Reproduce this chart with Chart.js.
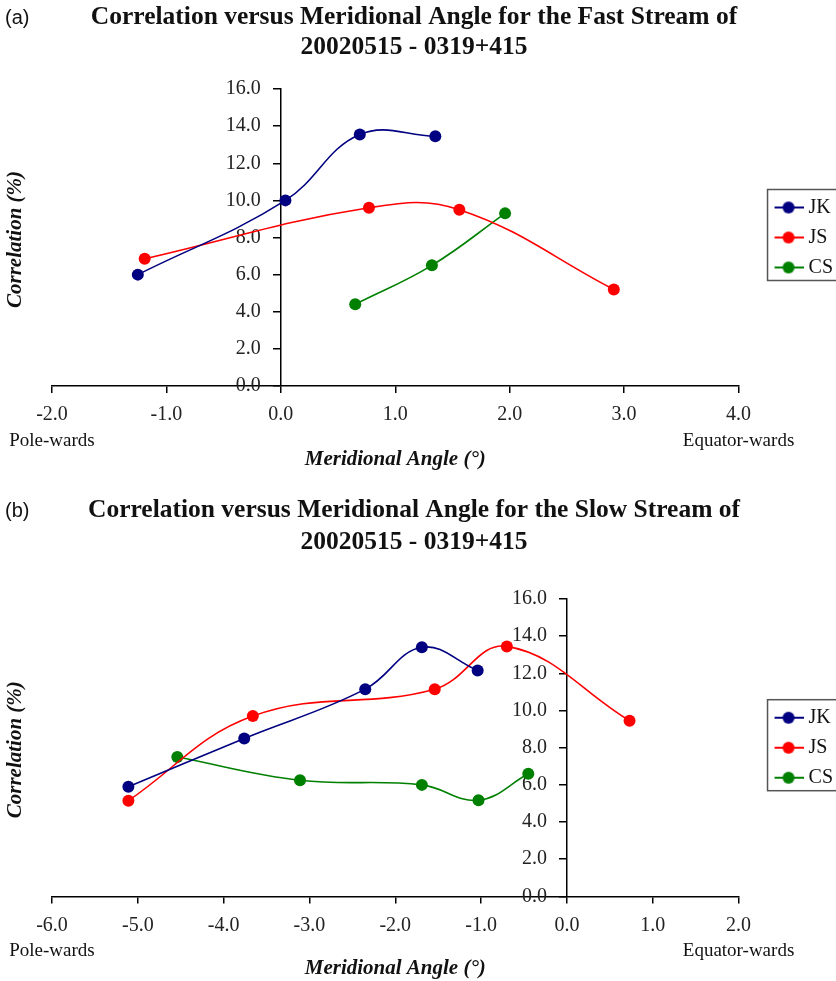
<!DOCTYPE html>
<html>
<head>
<meta charset="utf-8">
<script src="https://cdn.jsdelivr.net/npm/chart.js@4.4.1/dist/chart.umd.min.js"></script>
<style>
  html, body { margin: 0; padding: 0; background: #fff; overflow: hidden; }
  #page { position: relative; width: 836px; height: 981px; overflow: hidden; }
  canvas { display: block; }
</style>
</head>
<body>
<div id="page">
  <canvas id="fast" width="843" height="490"></canvas>
  <canvas id="slow" width="843" height="491"></canvas>
</div>
<script>
const seriesNames = ['JK', 'JS', 'CS'];
const seriesColors = ['#000080', '#ff0000', '#008000'];

// (a) fast stream
const fastJkAngle = [-1.25, 0.04, 0.69, 1.35];
const fastJkCorr = [6.0, 10.0, 13.55, 13.45];
const fastJsAngle = [-1.19, 0.77, 1.56, 2.91];
const fastJsCorr = [6.85, 9.6, 9.5, 5.2];
const fastCsAngle = [0.65, 1.32, 1.96];
const fastCsCorr = [4.4, 6.5, 9.3];

// (b) slow stream
const slowJkAngle = [-5.11, -3.76, -2.35, -1.69, -1.04];
const slowJkCorr = [5.9, 8.5, 11.15, 13.4, 12.15];
const slowJsAngle = [-5.11, -3.66, -1.54, -0.70, 0.73];
const slowJsCorr = [5.15, 9.7, 11.15, 13.45, 9.45];
const slowCsAngle = [-4.54, -3.11, -1.69, -1.03, -0.45];
const slowCsCorr = [7.5, 6.25, 6.0, 5.17, 6.6];

const fastAngleTicks = [-2, -1, 0, 1, 2, 3, 4];
const slowAngleTicks = [-6, -5, -4, -3, -2, -1, 0, 1, 2];
const corrTicks = [0, 2, 4, 6, 8, 10, 12, 14, 16];

const SERIF = '"Liberation Serif", "Times New Roman", serif';
Chart.defaults.font.family = SERIF;

// little line-with-dot icons for the legend (left half left empty on purpose)
const legendIcons = seriesColors.map(c => {
  const cv = document.createElement('canvas');
  cv.width = 60; cv.height = 14;
  const g = cv.getContext('2d');
  g.strokeStyle = c; g.lineWidth = 2;
  g.beginPath(); g.moveTo(31, 7); g.lineTo(60, 7); g.stroke();
  g.fillStyle = c;
  g.beginPath(); g.arc(45, 7, 6, 0, Math.PI * 2); g.fill();
  return cv;
});

const panelText = {
  id: 'panelText',
  afterDraw(chart, args, opts) {
    const { ctx, chartArea, scales } = chart;
    ctx.save();
    ctx.fillStyle = '#111';
    ctx.textBaseline = 'middle';

    ctx.font = '20px "Liberation Sans", Arial, sans-serif';
    ctx.textAlign = 'left';
    ctx.fillText(opts.tag, 5, opts.titleY[0] + 1);

    ctx.font = 'bold 25.5px ' + SERIF;
    ctx.textAlign = 'center';
    opts.title.forEach((line, i) => ctx.fillText(line, 414, opts.titleY[i]));

    ctx.save();
    ctx.translate(16, (chartArea.top + chartArea.bottom) / 2 + 2);
    ctx.rotate(-Math.PI / 2);
    ctx.font = 'italic bold 21px ' + SERIF;
    ctx.fillText('Correlation (%)', 0, 0);
    ctx.restore();

    ctx.font = '19px ' + SERIF;
    const yNote = chartArea.bottom + 55;
    ctx.fillText('Pole-wards', scales.x.getPixelForValue(scales.x.min), yNote);
    ctx.fillText('Equator-wards', scales.x.getPixelForValue(scales.x.max), yNote);

    // frame round the legend
    const boxes = chart.legend.legendHitBoxes;
    if (boxes.length) {
      const first = boxes[0], last = boxes[boxes.length - 1];
      const top = first.top - 8;
      ctx.strokeStyle = '#555';
      ctx.lineWidth = 1.5;
      ctx.strokeRect(first.left + 19, top, 120, last.top + 23 - top);
    }
    ctx.restore();
  }
};

function series(i, xs, ys) {
  return {
    label: seriesNames[i],
    data: xs.map((x, k) => ({ x, y: ys[k] })),
    borderColor: seriesColors[i],
    backgroundColor: seriesColors[i],
    pointBackgroundColor: seriesColors[i],
    pointBorderWidth: 0,
    borderWidth: 1.6,
    pointRadius: 6,
    pointHoverRadius: 6,
    showLine: true,
    tension: 0.4
  };
}

const axisLine = { display: true, drawOnChartArea: false, tickLength: 7, color: '#000', lineWidth: 1.5 };
const tickFont = { family: SERIF, size: 20 };

function makeChart(id, datasets, angleTicks, o) {
  return new Chart(document.getElementById(id), {
    type: 'scatter',
    data: { datasets },
    options: {
      responsive: false,
      animation: false,
      events: [],
      layout: { padding: { left: 52, right: 0, top: o.top, bottom: o.bottom } },
      scales: {
        x: {
          type: 'linear',
          position: 'bottom',
          min: angleTicks[0],
          max: angleTicks[angleTicks.length - 1],
          afterBuildTicks: s => { s.ticks = angleTicks.map(v => ({ value: v })); },
          ticks: { autoSkip: false, maxRotation: 0, padding: 10, color: '#222', font: tickFont, callback: v => v.toFixed(1) },
          grid: axisLine,
          border: { color: '#000', width: 1.5 },
          title: {
            display: true,
            text: 'Meridional Angle (°)',
            color: '#111',
            font: { family: SERIF, size: 21, style: 'italic', weight: 'bold' },
            padding: { top: o.titleGap, bottom: 0 }
          }
        },
        y: {
          type: 'linear',
          position: { x: 0 },
          min: corrTicks[0],
          max: corrTicks[corrTicks.length - 1],
          afterBuildTicks: s => { s.ticks = corrTicks.map(v => ({ value: v })); },
          // axis sits at x = 0, so the gap to the labels is made with trailing spaces
          ticks: { color: '#222', font: tickFont, callback: v => v.toFixed(1) + '    ' },
          grid: axisLine,
          border: { color: '#000', width: 1.5 }
        }
      },
      plugins: {
        legend: {
          position: 'right',
          fullSize: false,
          labels: {
            usePointStyle: true,
            pointStyleWidth: 50,
            padding: 10,
            color: '#111',
            font: { family: SERIF, size: 20 },
            generateLabels: chart => Chart.defaults.plugins.legend.labels.generateLabels(chart)
              .map((item, i) => Object.assign(item, { pointStyle: legendIcons[i] }))
          }
        },
        tooltip: { enabled: false },
        panelText: { tag: o.tag, title: o.title, titleY: o.titleY }
      }
    },
    plugins: [panelText]
  });
}

makeChart('fast', [
  series(0, fastJkAngle, fastJkCorr),
  series(1, fastJsAngle, fastJsCorr),
  series(2, fastCsAngle, fastCsCorr)
], fastAngleTicks, {
  tag: '(a)',
  title: ['Correlation versus Meridional Angle for the Fast Stream of', '20020515 - 0319+415'],
  titleY: [17, 47],
  top: 89, bottom: 17.4, titleGap: 10.4
});

makeChart('slow', [
  series(0, slowJkAngle, slowJkCorr),
  series(1, slowJsAngle, slowJsCorr),
  series(2, slowCsAngle, slowCsCorr)
], slowAngleTicks, {
  tag: '(b)',
  title: ['Correlation versus Meridional Angle for the Slow Stream of', '20020515 - 0319+415'],
  titleY: [20, 52],
  top: 109, bottom: 0, titleGap: 8.4
});
</script>
</body>
</html>
